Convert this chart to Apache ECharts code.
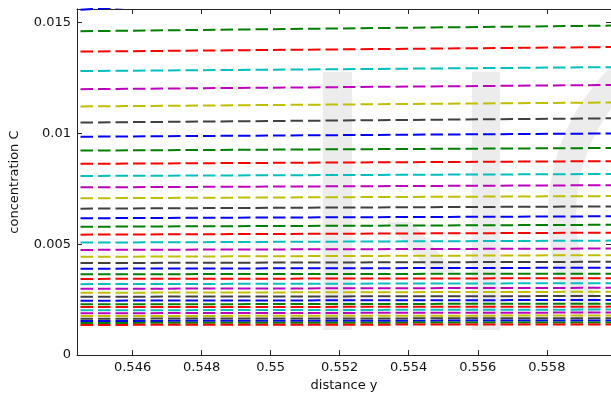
<!DOCTYPE html>
<html>
<head>
<meta charset="utf-8">
<script src="https://cdn.jsdelivr.net/npm/echarts@6/dist/echarts.min.js"></script>
<style>
html, body { margin: 0; padding: 0; background: #fff; }
#chart { width: 611px; height: 397px; }
</style>
</head>
<body>
<div id="chart"></div>
<script>
// x range of every profile (left end, right end)
let xEnds = [0.54439, 0.55986];
// concentration at the left end of each curve, top to bottom
let cLeft = [
    0.01556, 0.014598, 0.013679, 0.012800, 0.011984, 0.011208, 0.010481,
    0.009843, 0.009219, 0.008621, 0.008073, 0.007560, 0.007069, 0.006601,
    0.006168, 0.005785, 0.005428, 0.005071, 0.004741, 0.004429, 0.004148,
    0.003894, 0.003644, 0.003434, 0.003198, 0.002988, 0.002810, 0.002631,
    0.002453, 0.002288, 0.002163, 0.002020, 0.001887, 0.001762, 0.001641,
    0.001539, 0.001450, 0.001360
];
// concentration at the right end (the first one leaves the axes)
let cRight = [
    0.01700, 0.014852, 0.013884, 0.012979, 0.012176, 0.011386, 0.010673,
    0.009990, 0.009335, 0.008742, 0.008162, 0.007658, 0.007167, 0.006703,
    0.006257, 0.005874, 0.005517, 0.005160, 0.004803, 0.004505, 0.004206,
    0.003938, 0.003671, 0.003465, 0.003242, 0.003033, 0.002854, 0.002663,
    0.002484, 0.002319, 0.002185, 0.002052, 0.001918, 0.001784, 0.001664,
    0.001561, 0.001472, 0.001383
];
let xTicks = [0.546, 0.548, 0.55, 0.552, 0.554, 0.556, 0.558];
let yTicks = [0, 0.005, 0.01, 0.015];
let yMax = 0.0156;

// matlab b g r c m y k
let colorList = ['#0000ff', '#008000', '#ff0000', '#00bfbf', '#bf00bf', '#bfbf00', '#404040'];

let fmt = function (v) {
    return String(+v.toFixed(4));
};
let frame = { show: true, onZero: false, lineStyle: { color: '#262626', width: 1 } };
let font = { fontFamily: 'DejaVu Sans', fontSize: 13, color: '#111' };

let series = [];
for (let i = 0; i < cLeft.length; i++) {
    series.push({
        type: 'line',
        xAxisIndex: 0,
        yAxisIndex: 0,
        symbol: 'none',
        silent: true,
        clip: true,
        data: [[xEnds[0], cLeft[i]], [xEnds[1], cRight[i]]],
        lineStyle: {
            color: colorList[i % colorList.length],
            width: 2,
            type: [12.5, 5],
            dashOffset: 14
        }
    });
}

let option = {
    animation: false,
    backgroundColor: '#fff',
    grid: { left: 77, top: 9, right: 0, bottom: 38 },
    // pale watermark behind the plot
    graphic: [
        { type: 'rect', z: 0, shape: { x: 323, y: 72, width: 29, height: 258 }, style: { fill: '#ececec' } },
        { type: 'rect', z: 0, shape: { x: 472, y: 72, width: 28, height: 258 }, style: { fill: '#ececec' } },
        { type: 'sector', z: 0, shape: { cx: 754, cy: 215, r0: 178, r: 206, startAngle: 2.6, endAngle: 4.0 }, style: { fill: '#ececec' } },
        { type: 'polygon', z: 0, shape: { points: [[387, 222], [412, 222], [455, 272], [430, 272]] }, style: { fill: '#ececec' } }
    ],
    xAxis: [
        {
            type: 'value',
            min: xEnds[0],
            max: xEnds[1],
            name: 'distance y',
            nameLocation: 'middle',
            nameGap: 22,
            nameTextStyle: font,
            axisLine: frame,
            axisTick: { show: true, inside: true, length: 5, customValues: xTicks, lineStyle: { color: '#262626' } },
            axisLabel: Object.assign({ margin: 6, customValues: xTicks, formatter: fmt }, font),
            splitLine: { show: false }
        },
        {
            type: 'value',
            position: 'top',
            min: xEnds[0],
            max: xEnds[1],
            axisLine: frame,
            axisTick: { show: true, inside: true, length: 5, customValues: xTicks, lineStyle: { color: '#262626' } },
            axisLabel: { show: false },
            splitLine: { show: false }
        }
    ],
    yAxis: [
        {
            type: 'value',
            min: 0,
            max: yMax,
            name: 'concentration C',
            nameLocation: 'middle',
            nameGap: 56,
            nameTextStyle: font,
            axisLine: frame,
            axisTick: { show: true, inside: true, length: 5, customValues: yTicks, lineStyle: { color: '#262626' } },
            axisLabel: Object.assign({ margin: 6, customValues: yTicks, formatter: fmt }, font),
            splitLine: { show: false }
        },
        {
            type: 'value',
            position: 'right',
            min: 0,
            max: yMax,
            axisLine: frame,
            axisTick: { show: true, inside: true, length: 5, customValues: yTicks, lineStyle: { color: '#262626' } },
            axisLabel: { show: false },
            splitLine: { show: false }
        }
    ],
    series: series
};

let chart = echarts.init(document.getElementById('chart'));
chart.setOption(option);
</script>
</body>
</html>
